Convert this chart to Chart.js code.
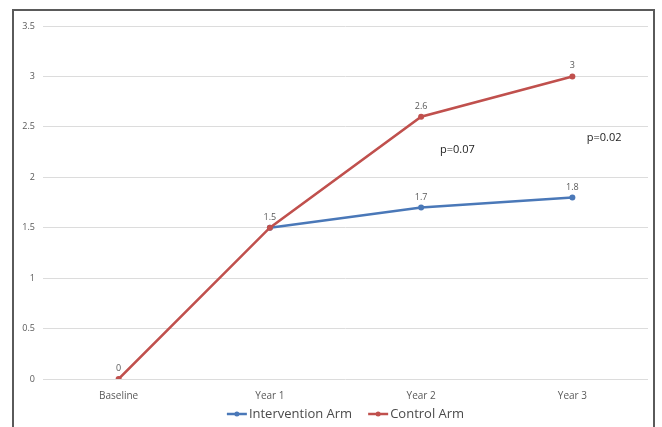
<!DOCTYPE html>
<html>
<head>
<meta charset="utf-8">
<script src="https://cdn.jsdelivr.net/npm/chart.js"></script>
<style>
  html, body { margin: 0; padding: 0; background: #fff; }
  #wrap { position: relative; width: 662px; height: 427px; overflow: hidden; }
  #frame { position: absolute; left: 12px; top: 9px; width: 643px; height: 440px; border: 2px solid #5a5a5a; box-sizing: border-box; pointer-events: none; }
  canvas { position: absolute; left: 0; top: 0; }
</style>
</head>
<body>
<div id="wrap">
  <canvas id="line-chart" width="662" height="427"></canvas>
  <div id="frame"></div>
</div>
<script>
// data
const timepoints = ['Baseline', 'Year 1', 'Year 2', 'Year 3'];
const interventionArm = [null, 1.5, 1.7, 1.8];
const controlArm = [0, 1.5, 2.6, 3];
const yTicks = [0, 0.5, 1, 1.5, 2, 2.5, 3, 3.5];
// p-value notes, placed in data units (category index, value)
const pNotes = [
  { text: 'p=0.07', at: 2.24, val: 2.27 },
  { text: 'p=0.02', at: 3.21, val: 2.39 }
];

const blue = '#4a78b8';
const red = '#c0504d';
const grey = '#595959';
const font = '"Open Sans", "Liberation Sans", sans-serif';

// labels above each point
const pointLabels = {
  id: 'pointLabels',
  afterDatasetsDraw(chart) {
    const ctx = chart.ctx;
    ctx.save();
    ctx.font = '9px ' + font;
    ctx.fillStyle = grey;
    ctx.textAlign = 'center';
    ctx.textBaseline = 'bottom';
    chart.data.datasets.forEach((ds, i) => {
      const meta = chart.getDatasetMeta(i);
      meta.data.forEach((pt, j) => {
        const v = ds.data[j];
        if (v === null) return;
        if (i === 0 && controlArm[j] === v) return; // shared point, labelled once
        ctx.fillText(String(v), pt.x, pt.y - 6);
      });
    });
    ctx.restore();
  }
};

const notes = {
  id: 'notes',
  afterDatasetsDraw(chart) {
    const ctx = chart.ctx;
    const xs = chart.scales.x, ys = chart.scales.y;
    ctx.save();
    ctx.font = '11px ' + font;
    ctx.textAlign = 'center';
    ctx.textBaseline = 'middle';
    pNotes.forEach(n => {
      const x = xs.getPixelForValue(n.at);
      const y = ys.getPixelForValue(n.val);
      const w = ctx.measureText(n.text).width + 14;
      ctx.fillStyle = '#fff';
      ctx.fillRect(x - w / 2, y - 10, w, 20);
      ctx.fillStyle = '#222';
      ctx.fillText(n.text, x, y);
    });
    ctx.restore();
  }
};

// Excel-style legend: line with a dot, centred under the plot
const lineLegend = {
  id: 'lineLegend',
  afterDraw(chart) {
    const ctx = chart.ctx;
    const area = chart.chartArea;
    ctx.save();
    ctx.font = '13px ' + font;
    ctx.textBaseline = 'middle';
    const items = chart.data.datasets.map(ds => ({
      text: ds.label, color: ds.borderColor, w: 20 + 2 + ctx.measureText(ds.label).width
    }));
    const gap = 16;
    const total = items.reduce((s, it) => s + it.w, 0) + gap * (items.length - 1);
    let x = (area.left + area.right) / 2 - total / 2;
    const y = area.bottom + 35;
    items.forEach(it => {
      ctx.strokeStyle = it.color;
      ctx.lineWidth = 2.5;
      ctx.beginPath();
      ctx.moveTo(x, y);
      ctx.lineTo(x + 20, y);
      ctx.stroke();
      ctx.fillStyle = it.color;
      ctx.beginPath();
      ctx.arc(x + 10, y, 2.5, 0, Math.PI * 2);
      ctx.fill();
      ctx.fillStyle = '#4a4a4a';
      ctx.fillText(it.text, x + 22, y);
      x += it.w + gap;
    });
    ctx.restore();
  }
};

function renderLineChart() {
  const ctx = document.getElementById('line-chart').getContext('2d');
  window.lineChart = new Chart(ctx, {
    type: 'line',
    data: {
      labels: timepoints,
      datasets: [{
        label: 'Intervention Arm',
        data: interventionArm,
        borderColor: blue,
        backgroundColor: blue,
        borderWidth: 2.5,
        pointRadius: 3,
        pointBorderWidth: 0,
        order: 2
      }, {
        label: 'Control Arm',
        data: controlArm,
        borderColor: red,
        backgroundColor: red,
        borderWidth: 2.5,
        pointRadius: 3,
        pointBorderWidth: 0,
        order: 1
      }]
    },
    options: {
      responsive: false,
      animation: false,
      layout: { padding: { left: 13, right: 14, top: 26, bottom: 22 } },
      plugins: {
        tooltip: { enabled: false },
        legend: { display: false }
      },
      scales: {
        x: {
          offset: true,
          grid: { display: false },
          border: { display: false },
          ticks: { color: grey, font: { family: font, size: 10 }, padding: 3 }
        },
        y: {
          min: 0,
          max: 3.5,
          afterFit: s => { s.width = 30; },
          afterBuildTicks: s => { s.ticks = yTicks.map(v => ({ value: v })); },
          grid: { color: '#dcdcdc', drawTicks: false },
          border: { display: false },
          ticks: {
            color: grey,
            font: { family: font, size: 9 },
            padding: 8,
            callback: v => String(v)
          }
        }
      }
    },
    plugins: [pointLabels, notes, lineLegend]
  });
}

renderLineChart();
</script>
</body>
</html>
